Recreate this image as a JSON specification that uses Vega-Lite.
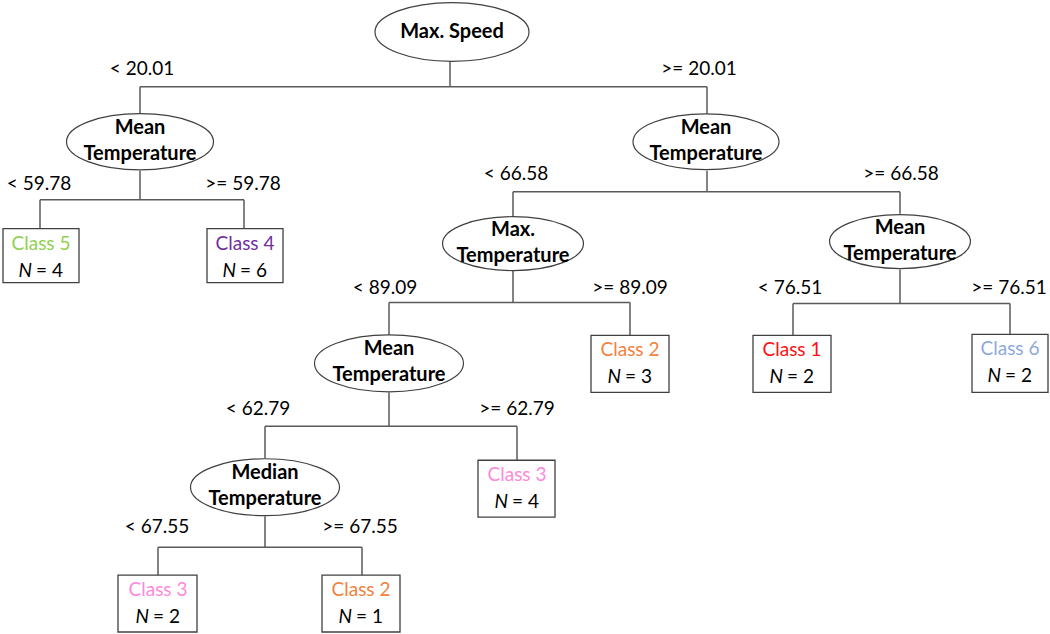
{
  "$schema": "https://vega.github.io/schema/vega-lite/v6.json",
  "width": 1050,
  "height": 634,
  "autosize": {"type": "fit", "contains": "padding"},
  "padding": 0,
  "background": "white",
  "config": {"view": {"stroke": null}},
  "datasets": {
    "edges": [
      {"x": 450, "y": 59, "x2": 450, "y2": 86},
      {"x": 140, "y": 86, "x2": 707, "y2": 86},
      {"x": 140, "y": 86, "x2": 140, "y2": 113},
      {"x": 707, "y": 86, "x2": 707, "y2": 113},
      {"x": 140, "y": 170, "x2": 140, "y2": 199},
      {"x": 40, "y": 199, "x2": 244, "y2": 199},
      {"x": 40, "y": 199, "x2": 40, "y2": 228},
      {"x": 244, "y": 199, "x2": 244, "y2": 228},
      {"x": 707, "y": 170, "x2": 707, "y2": 191},
      {"x": 513, "y": 191, "x2": 900, "y2": 191},
      {"x": 513, "y": 191, "x2": 513, "y2": 217},
      {"x": 900, "y": 191, "x2": 900, "y2": 213},
      {"x": 513, "y": 269, "x2": 513, "y2": 302},
      {"x": 389, "y": 302, "x2": 630, "y2": 302},
      {"x": 389, "y": 302, "x2": 389, "y2": 335},
      {"x": 630, "y": 302, "x2": 630, "y2": 335},
      {"x": 900, "y": 269, "x2": 900, "y2": 303},
      {"x": 793, "y": 303, "x2": 1010, "y2": 303},
      {"x": 793, "y": 303, "x2": 793, "y2": 335},
      {"x": 1010, "y": 303, "x2": 1010, "y2": 334},
      {"x": 389, "y": 392, "x2": 389, "y2": 426},
      {"x": 265, "y": 426, "x2": 517, "y2": 426},
      {"x": 265, "y": 426, "x2": 265, "y2": 458},
      {"x": 517, "y": 426, "x2": 517, "y2": 460},
      {"x": 265, "y": 516, "x2": 265, "y2": 547},
      {"x": 158, "y": 547, "x2": 362, "y2": 547},
      {"x": 158, "y": 547, "x2": 158, "y2": 575},
      {"x": 362, "y": 547, "x2": 362, "y2": 575}
    ],
    "nodes": [
      {"x": 452, "y": 31, "s": 23716, "l1": "Max. Speed", "l2": ""},
      {"x": 140, "y": 141, "s": 21609, "l1": "Mean", "l2": "Temperature"},
      {"x": 706, "y": 141, "s": 21316, "l1": "Mean", "l2": "Temperature"},
      {"x": 513, "y": 243, "s": 19881, "l1": "Max.", "l2": "Temperature"},
      {"x": 900, "y": 241, "s": 19881, "l1": "Mean", "l2": "Temperature"},
      {"x": 389, "y": 363, "s": 22201, "l1": "Mean", "l2": "Temperature"},
      {"x": 265, "y": 487, "s": 22201, "l1": "Median", "l2": "Temperature"}
    ],
    "leaves": [
      {"x": 41, "x1": 3, "x2": 79, "y1": 228, "y2": 282, "cls": "Class 5", "n": "= 4", "color": "#92D050"},
      {"x": 245, "x1": 207, "x2": 283, "y1": 228, "y2": 282, "cls": "Class 4", "n": "= 6", "color": "#7030A0"},
      {"x": 630, "x1": 591, "x2": 669, "y1": 335, "y2": 392, "cls": "Class 2", "n": "= 3", "color": "#F4813C"},
      {"x": 792, "x1": 753, "x2": 831, "y1": 335, "y2": 392, "cls": "Class 1", "n": "= 2", "color": "#FF1010"},
      {"x": 1010, "x1": 972, "x2": 1048, "y1": 334, "y2": 392, "cls": "Class 6", "n": "= 2", "color": "#8EA9DB"},
      {"x": 517, "x1": 478, "x2": 555, "y1": 460, "y2": 517, "cls": "Class 3", "n": "= 4", "color": "#FF88DD"},
      {"x": 158, "x1": 118, "x2": 197, "y1": 575, "y2": 632, "cls": "Class 3", "n": "= 2", "color": "#FF88DD"},
      {"x": 361, "x1": 322, "x2": 400, "y1": 575, "y2": 632, "cls": "Class 2", "n": "= 1", "color": "#F4813C"}
    ],
    "conds": [
      {"x": 142, "y": 68, "t": "< 20.01"},
      {"x": 699, "y": 68, "t": ">= 20.01"},
      {"x": 39, "y": 183, "t": "< 59.78"},
      {"x": 243, "y": 183, "t": ">= 59.78"},
      {"x": 516, "y": 173, "t": "< 66.58"},
      {"x": 901, "y": 173, "t": ">= 66.58"},
      {"x": 385, "y": 287, "t": "< 89.09"},
      {"x": 630, "y": 287, "t": ">= 89.09"},
      {"x": 790, "y": 287, "t": "< 76.51"},
      {"x": 1009, "y": 287, "t": ">= 76.51"},
      {"x": 258, "y": 409, "t": "< 62.79"},
      {"x": 517, "y": 409, "t": ">= 62.79"},
      {"x": 157, "y": 527, "t": "< 67.55"},
      {"x": 360, "y": 527, "t": ">= 67.55"}
    ]
  },
  "encoding": {
    "x": {"field": "x", "type": "quantitative", "scale": {"domain": [0, 1050], "nice": false, "zero": false}, "axis": null},
    "y": {"field": "y", "type": "quantitative", "scale": {"domain": [0, 634], "nice": false, "zero": false, "reverse": true}, "axis": null}
  },
  "layer": [
    {
      "data": {"name": "edges"},
      "mark": {"type": "rule", "color": "#5a5a5a", "strokeWidth": 1.5},
      "encoding": {
        "x2": {"field": "x2"},
        "y2": {"field": "y2"}
      }
    },
    {
      "data": {"name": "leaves"},
      "mark": {"type": "rect", "fill": "white", "stroke": "#404040", "strokeWidth": 1.3},
      "encoding": {
        "x": {"field": "x1", "type": "quantitative"},
        "x2": {"field": "x2"},
        "y": {"field": "y1", "type": "quantitative"},
        "y2": {"field": "y2"}
      }
    },
    {
      "data": {"name": "nodes"},
      "mark": {"type": "point", "filled": true, "fill": "white", "opacity": 1, "stroke": "#404040", "strokeWidth": 1.2,
        "shape": "M -1 0 C -1 -0.2109 -0.5523 -0.382 0 -0.382 C 0.5523 -0.382 1 -0.2109 1 0 C 1 0.2109 0.5523 0.382 0 0.382 C -0.5523 0.382 -1 0.2109 -1 0 Z"},
      "encoding": {
        "size": {"field": "s", "type": "quantitative", "scale": null}
      }
    },
    {
      "data": {"name": "nodes"},
      "transform": [{"filter": "datum.l2 == ''"}],
      "mark": {"type": "text", "font": "Lato", "fontWeight": "bold", "fontSize": 20, "baseline": "middle", "align": "center", "color": "black"},
      "encoding": {"text": {"field": "l1"}}
    },
    {
      "data": {"name": "nodes"},
      "transform": [{"filter": "datum.l2 != ''"}],
      "mark": {"type": "text", "font": "Lato", "fontWeight": "bold", "fontSize": 20, "baseline": "middle", "align": "center", "color": "black", "dy": -14},
      "encoding": {"text": {"field": "l1"}}
    },
    {
      "data": {"name": "nodes"},
      "transform": [{"filter": "datum.l2 != ''"}],
      "mark": {"type": "text", "font": "Lato", "fontWeight": "bold", "fontSize": 20, "baseline": "middle", "align": "center", "color": "black", "dy": 12},
      "encoding": {"text": {"field": "l2"}}
    },
    {
      "data": {"name": "leaves"},
      "transform": [{"calculate": "datum.y1", "as": "y"}],
      "mark": {"type": "text", "font": "Lato", "fontSize": 19, "baseline": "middle", "align": "center", "dy": 15},
      "encoding": {
        "text": {"field": "cls"},
        "color": {"field": "color", "type": "nominal", "scale": null}
      }
    },
    {
      "data": {"name": "leaves"},
      "transform": [{"calculate": "datum.y1", "as": "y"}],
      "mark": {"type": "text", "font": "Lato", "fontSize": 19, "fontStyle": "italic", "baseline": "middle", "align": "right", "dy": 42, "dx": -9, "color": "black", "text": "N"}
    },
    {
      "data": {"name": "leaves"},
      "transform": [{"calculate": "datum.y1", "as": "y"}],
      "mark": {"type": "text", "font": "Lato", "fontSize": 19, "baseline": "middle", "align": "left", "dy": 42, "dx": -5, "color": "black"},
      "encoding": {"text": {"field": "n"}}
    },
    {
      "data": {"name": "conds"},
      "mark": {"type": "text", "font": "Lato", "fontSize": 19, "baseline": "middle", "align": "center", "color": "black"},
      "encoding": {"text": {"field": "t"}}
    }
  ]
}
